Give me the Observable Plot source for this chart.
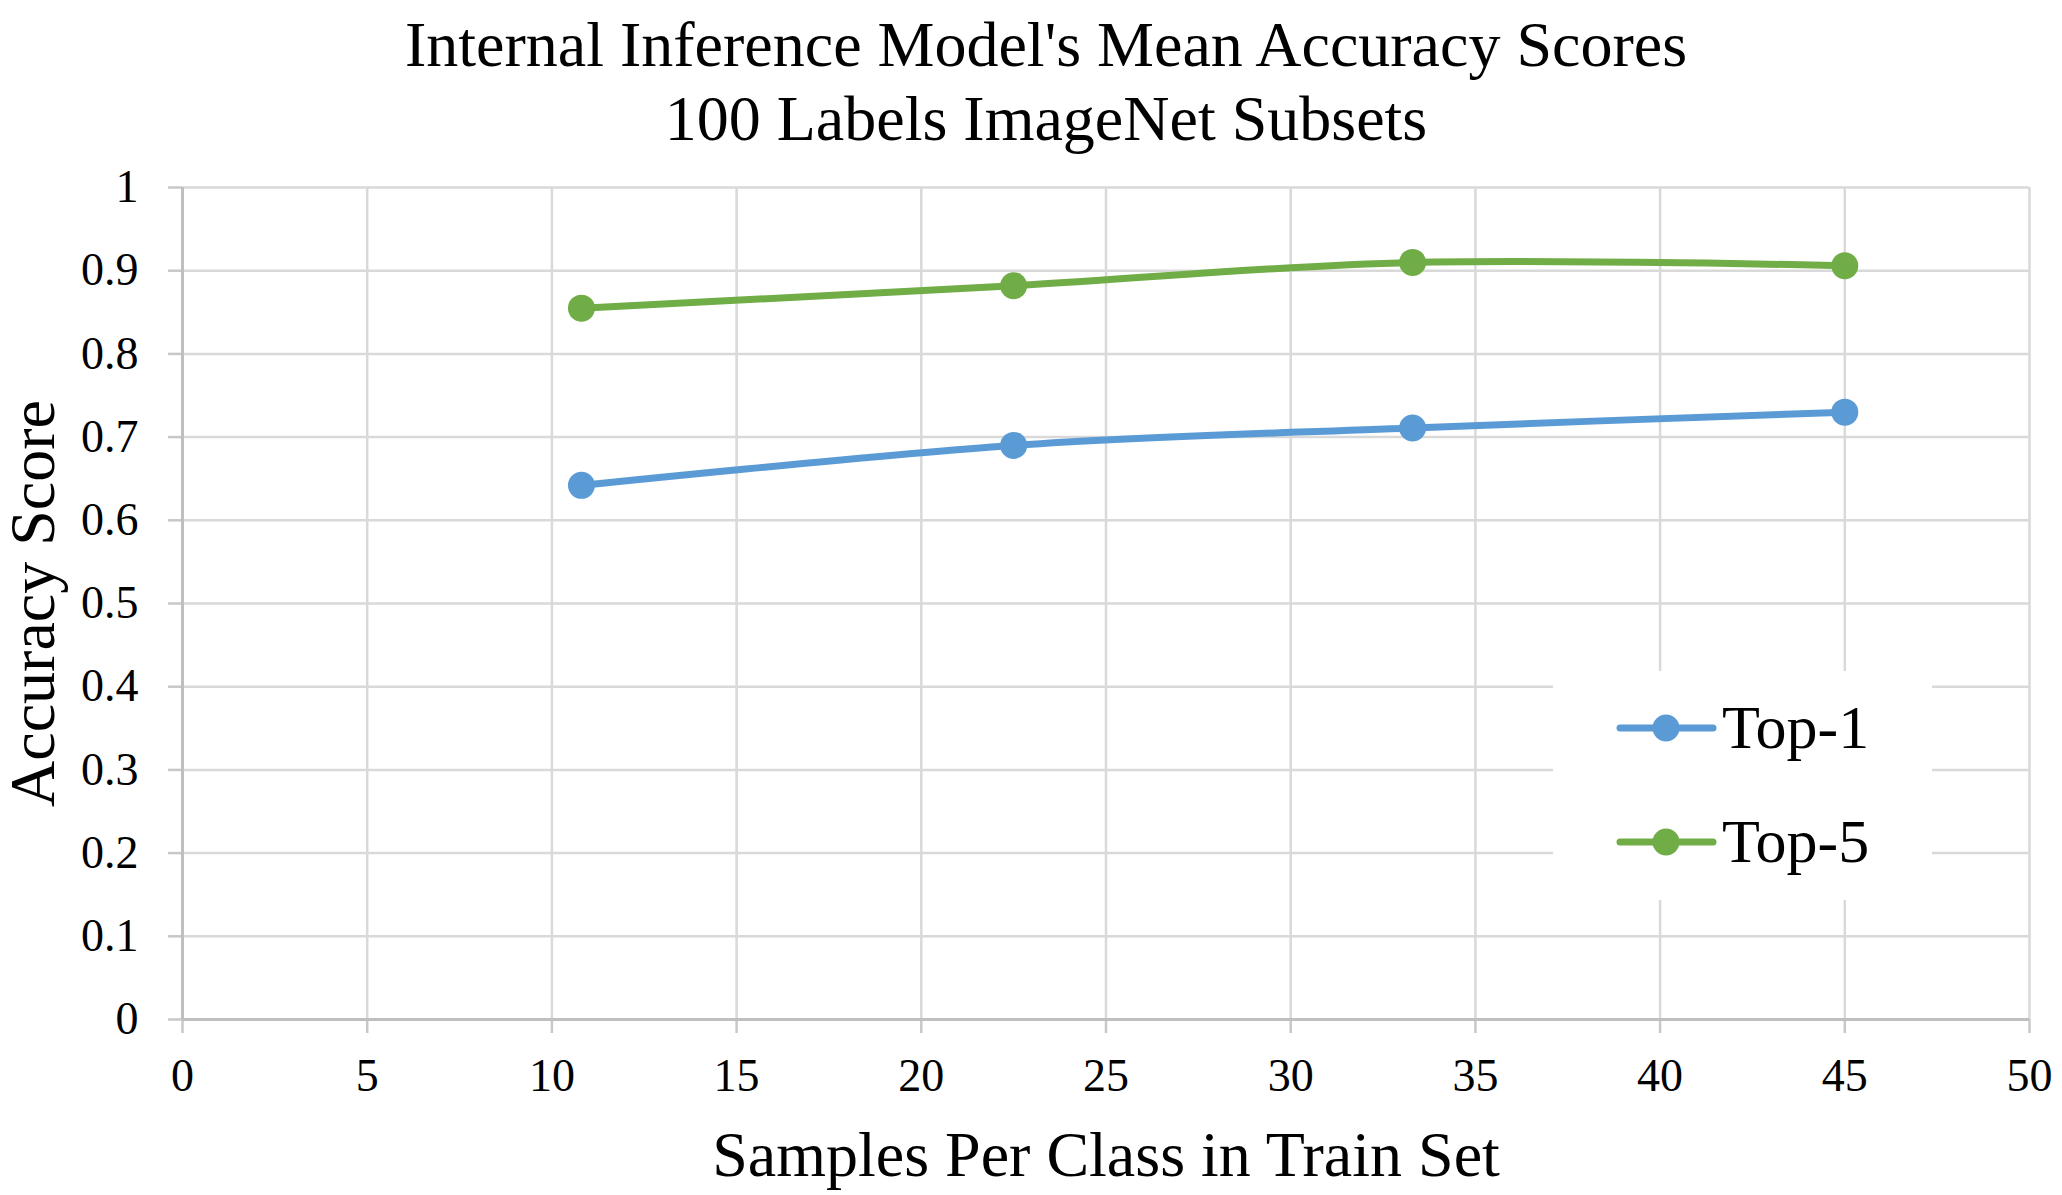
<!DOCTYPE html>
<html>
<head>
<meta charset="utf-8">
<script src="https://cdn.jsdelivr.net/npm/d3@7"></script>
<script src="https://cdn.jsdelivr.net/npm/@observablehq/plot@0.6"></script>
<style>
  html, body { margin: 0; padding: 0; background: #fff; }
  body { width: 2062px; height: 1195px; position: relative; overflow: hidden;
         font-family: "Liberation Serif", "Times New Roman", serif; }
  #title { height: 156px; box-sizing: border-box; padding-top: 8px; padding-left: 30px;
           text-align: center; font-size: 64px; line-height: 74px; color: #000; }
  #legend { position: absolute; left: 1553px; top: 671px; }
  #chart svg text { font-family: "Liberation Serif", "Times New Roman", serif; }
</style>
</head>
<body>
<div id="title">Internal Inference Model's Mean Accuracy Scores<br>100 Labels ImageNet Subsets</div>
<div id="chart"></div>
<div id="legend"></div>
<script>
const samplesPerClass = [10.8, 22.5, 33.3, 45];
const top1Scores = [0.642, 0.690, 0.711, 0.730];
const top5Scores = [0.855, 0.882, 0.910, 0.906];
const seriesNames = ["Top-1", "Top-5"];
const seriesColors = ["#5B9BD5", "#70AD47"];
const xTicks = [0, 5, 10, 15, 20, 25, 30, 35, 40, 45, 50];
const yTicks = [0, 0.1, 0.2, 0.3, 0.4, 0.5, 0.6, 0.7, 0.8, 0.9, 1];
const xLabel = "Samples Per Class in Train Set";
const yLabel = "Accuracy Score";

const rows = [];
samplesPerClass.forEach((s, i) => rows.push({x: s, y: top1Scores[i], series: seriesNames[0]}));
samplesPerClass.forEach((s, i) => rows.push({x: s, y: top5Scores[i], series: seriesNames[1]}));

const font = '"Liberation Serif", "Times New Roman", serif';

const chart = Plot.plot({
  width: 2062,
  height: 1039,
  marginLeft: 182,
  marginRight: 33,
  marginTop: 31,
  marginBottom: 176,
  style: {fontFamily: font, fontSize: "46px", background: "#fff", color: "#000", overflow: "visible"},
  x: {domain: [0, 50], ticks: xTicks, label: null},
  y: {domain: [0, 1], ticks: yTicks, label: null},
  color: {domain: seriesNames, range: seriesColors},
  marks: [
    Plot.gridX(xTicks, {stroke: "#d9d9d9", strokeOpacity: 1, strokeWidth: 2.5}),
    Plot.gridY(yTicks, {stroke: "#d9d9d9", strokeOpacity: 1, strokeWidth: 2.5}),
    Plot.axisX(xTicks, {tickSize: 14, tickPadding: 25, stroke: "#c8c8c8", strokeWidth: 2.5,
      tickFormat: d => String(d), fontSize: 46, fontFamily: font, label: null}),
    Plot.axisY(yTicks, {tickSize: 14, tickPadding: 30, stroke: "#c8c8c8", strokeWidth: 2.5,
      tickFormat: d => String(d), fontSize: 46, fontFamily: font, label: null}),
    Plot.ruleX([0], {stroke: "#bfbfbf", strokeWidth: 3}),
    Plot.ruleY([0], {stroke: "#bfbfbf", strokeWidth: 3}),
    Plot.line(rows, {x: "x", y: "y", z: "series", stroke: "series", strokeWidth: 7, curve: "cardinal"}),
    Plot.dot(rows, {x: "x", y: "y", fill: "series", r: 13.5, stroke: "none"}),
    Plot.text([yLabel], {text: d => d, frameAnchor: "left", dx: -129, rotate: -90,
      textAnchor: "middle", lineAnchor: "bottom", fontSize: 64, fontFamily: font, fill: "#000"}),
    Plot.text([xLabel], {text: d => d, frameAnchor: "bottom", dy: 156,
      textAnchor: "middle", lineAnchor: "bottom", fontSize: 64, fontFamily: font, fill: "#000"})
  ]
});
document.getElementById("chart").appendChild(chart);

// Legend
const lg = d3.select("#legend").append("svg")
  .attr("width", 379).attr("height", 229)
  .style("display", "block").style("background", "#fff");
seriesNames.forEach((name, i) => {
  const cy = 57 + i * 114;
  const g = lg.append("g");
  g.append("line").attr("x1", 67).attr("x2", 160).attr("y1", cy).attr("y2", cy)
    .attr("stroke", seriesColors[i]).attr("stroke-width", 7).attr("stroke-linecap", "round");
  g.append("circle").attr("cx", 113).attr("cy", cy).attr("r", 13.5).attr("fill", seriesColors[i]);
  g.append("text").attr("x", 169).attr("y", cy + 20).text(name)
    .attr("font-family", font).attr("font-size", 62).attr("fill", "#000");
});
</script>
</body>
</html>
